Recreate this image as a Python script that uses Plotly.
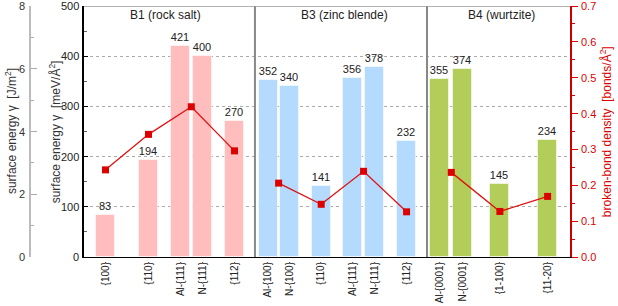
import plotly.graph_objects as go

# ---- data ----
rs_labels = ["{100}", "{110}", "Al-{111}", "N-{111}", "{112}"]
rs_energy = [83, 194, 421, 400, 270]
rs_bond = [0.243, 0.342, 0.419, 0.296]

zb_labels = ["Al-{100}", "N-{100}", "{110}", "Al-{111}", "N-{111}", "{112}"]
zb_energy = [352, 340, 141, 356, 378, 232]
zb_bond = [0.206, 0.147, 0.239, 0.126]

wz_labels = ["Al-{0001}", "N-{0001}", "{1-100}", "{11-20}"]
wz_energy = [355, 374, 145, 234]
wz_bond = [0.236, 0.127, 0.169]

phase_names = ["B1 (rock salt)", "B3 (zinc blende)", "B4 (wurtzite)"]

# tick labels
mev_ticks = [0, 100, 200, 300, 400, 500]
jm2_ticks = [0, 2, 4, 6, 8]
jm2_max = 8
bond_ticks = [0.0, 0.1, 0.2, 0.3, 0.4, 0.5, 0.6, 0.7]

# ---- layout positions (slot units) ----
rs_x = [1, 3, 4.48, 5.5, 7]
zb_x = [8.56, 9.55, 11.03, 12.5, 13.5, 15]
wz_x = [16.55, 17.62, 19.34, 21.56]
rs_line_x = [1, 3, 4.99, 7]
zb_line_x = [9.05, 11.03, 13.0, 15]
wz_line_x = [17.08, 19.34, 21.56]
dividers = [7.95, 15.95]
phase_x = [3.8, 12.1, 19.4]

FONT = "Liberation Sans, Arial, sans-serif"
colors = ["#ffbdbd", "#b4dbfd", "#b3cd5b"]

fig = go.Figure()
for xs, ys, c in [(rs_x, rs_energy, colors[0]), (zb_x, zb_energy, colors[1]), (wz_x, wz_energy, colors[2])]:
    fig.add_trace(go.Bar(
        x=xs, y=ys, width=0.88,
        marker=dict(color=c, line=dict(color="rgba(255,255,255,0.55)", width=1)),
        text=[str(v) for v in ys], textposition="outside",
        textfont=dict(size=11, color="#222", family=FONT),
        cliponaxis=False, showlegend=False, xaxis="x", yaxis="y",
    ))

for xs, ys in [(rs_line_x, rs_bond), (zb_line_x, zb_bond), (wz_line_x, wz_bond)]:
    fig.add_trace(go.Scatter(
        x=xs, y=ys, mode="lines+markers",
        line=dict(color="#e01010", width=1.3),
        marker=dict(symbol="square", size=7, color="#dd0000"),
        showlegend=False, xaxis="x", yaxis="y2",
    ))

# dummy trace for far-left axis
fig.add_trace(go.Scatter(x=[None], y=[None], xaxis="x", yaxis="y3", showlegend=False))

all_x = rs_x + zb_x + wz_x
all_labels = rs_labels + zb_labels + wz_labels

shapes = []
for d in dividers:
    shapes.append(dict(type="line", xref="x", yref="y", x0=d, x1=d, y0=0, y1=500,
                       line=dict(color="#888888", width=2)))
shapes.append(dict(type="line", xref="x domain", yref="y", x0=0, x1=1, y0=500, y1=500,
                   line=dict(color="#999999", width=1.5)))

annotations = []
for name, px in zip(phase_names, phase_x):
    annotations.append(dict(x=px, y=482, xref="x", yref="y", text=name, showarrow=False,
                            font=dict(size=12, color="#222", family=FONT)))
annotations += [
    dict(x=-0.036, y=0.5, xref="paper", yref="paper", text="surface energy γ  [J/m<sup>2</sup>]",
         xanchor="center", yanchor="middle",
         textangle=-90, showarrow=False, font=dict(size=12, color="#333", family=FONT)),
    dict(x=0.046, y=0.5, xref="paper", yref="paper", text="surface energy γ  [meV/Å<sup>2</sup>]",
         xanchor="center", yanchor="middle",
         textangle=-90, showarrow=False, font=dict(size=12, color="#333", family=FONT)),
    dict(x=1.066, y=0.5, xref="paper", yref="paper", text="broken-bond density  [bonds/Å<sup>2</sup>]",
         xanchor="center", yanchor="middle",
         textangle=-90, showarrow=False, font=dict(size=12, color="#dd0000", family=FONT)),
]
# y tick labels as annotations
for v in mev_ticks:
    annotations.append(dict(x=0.1, y=v, xref="paper", yref="y", text=str(v), xanchor="right",
                            yanchor="middle", xshift=-3, showarrow=False,
                            font=dict(size=11, color="#222", family=FONT)))
for v in jm2_ticks:
    annotations.append(dict(x=0, y=v / jm2_max, xref="paper", yref="paper", text=str(v),
                            xanchor="right", yanchor="middle", xshift=-3, showarrow=False,
                            font=dict(size=11, color="#333", family=FONT)))
for v in bond_ticks:
    annotations.append(dict(x=1, y=v, xref="paper", yref="y2", text=f"{v:.1f}", xanchor="left",
                            yanchor="middle", xshift=9, showarrow=False,
                            font=dict(size=11, color="#dd0000", family=FONT)))

fig.update_layout(
    width=618, height=306,
    margin=dict(l=30, r=48, t=6, b=49, autoexpand=False),
    paper_bgcolor="white", plot_bgcolor="white",
    font=dict(family=FONT, size=11, color="#333"),
    bargap=0,
    xaxis=dict(domain=[0.1, 1], range=[0, 22.6], tickvals=all_x, ticktext=all_labels,
               tickangle=-90, tickfont=dict(size=10, color="#222"), ticks="", automargin=False,
               showline=True, linecolor="black", linewidth=1, showgrid=False, zeroline=False),
    yaxis=dict(range=[0, 500], dtick=100, ticks="inside", ticklen=4, tickcolor="black",
               minor=dict(dtick=50, ticks="inside", ticklen=3, tickcolor="#666", showgrid=False),
               showline=True, linecolor="black", linewidth=1.5, automargin=False,
               showticklabels=False,
               showgrid=True, gridcolor="#aaaaaa", griddash="dot", gridwidth=1,
               zeroline=False),
    yaxis2=dict(range=[0, 0.7], overlaying="y", side="right", anchor="x", dtick=0.1,
                ticks="outside", ticklen=6, tickcolor="#dd0000", automargin=False,
                minor=dict(dtick=0.05, ticks="outside", ticklen=3, tickcolor="#dd0000"),
                showticklabels=False,
                showline=True, linecolor="#cc0000", linewidth=1.5, showgrid=False, zeroline=False),
    yaxis3=dict(range=[0, 8], overlaying="y", anchor="free", position=0, side="left",
                dtick=2, ticks="inside", ticklen=6, tickcolor="#aaaaaa", automargin=False,
                minor=dict(dtick=1, ticks="inside", ticklen=3, tickcolor="#aaaaaa"),
                showticklabels=False,
                showline=True, linecolor="#bbbbbb", linewidth=2, showgrid=False, zeroline=False),
    shapes=shapes, annotations=annotations,
)

fig.write_html("out.html", config={"displayModeBar": False},
               post_script="document.body.style.margin='0';document.body.style.padding='0';")
